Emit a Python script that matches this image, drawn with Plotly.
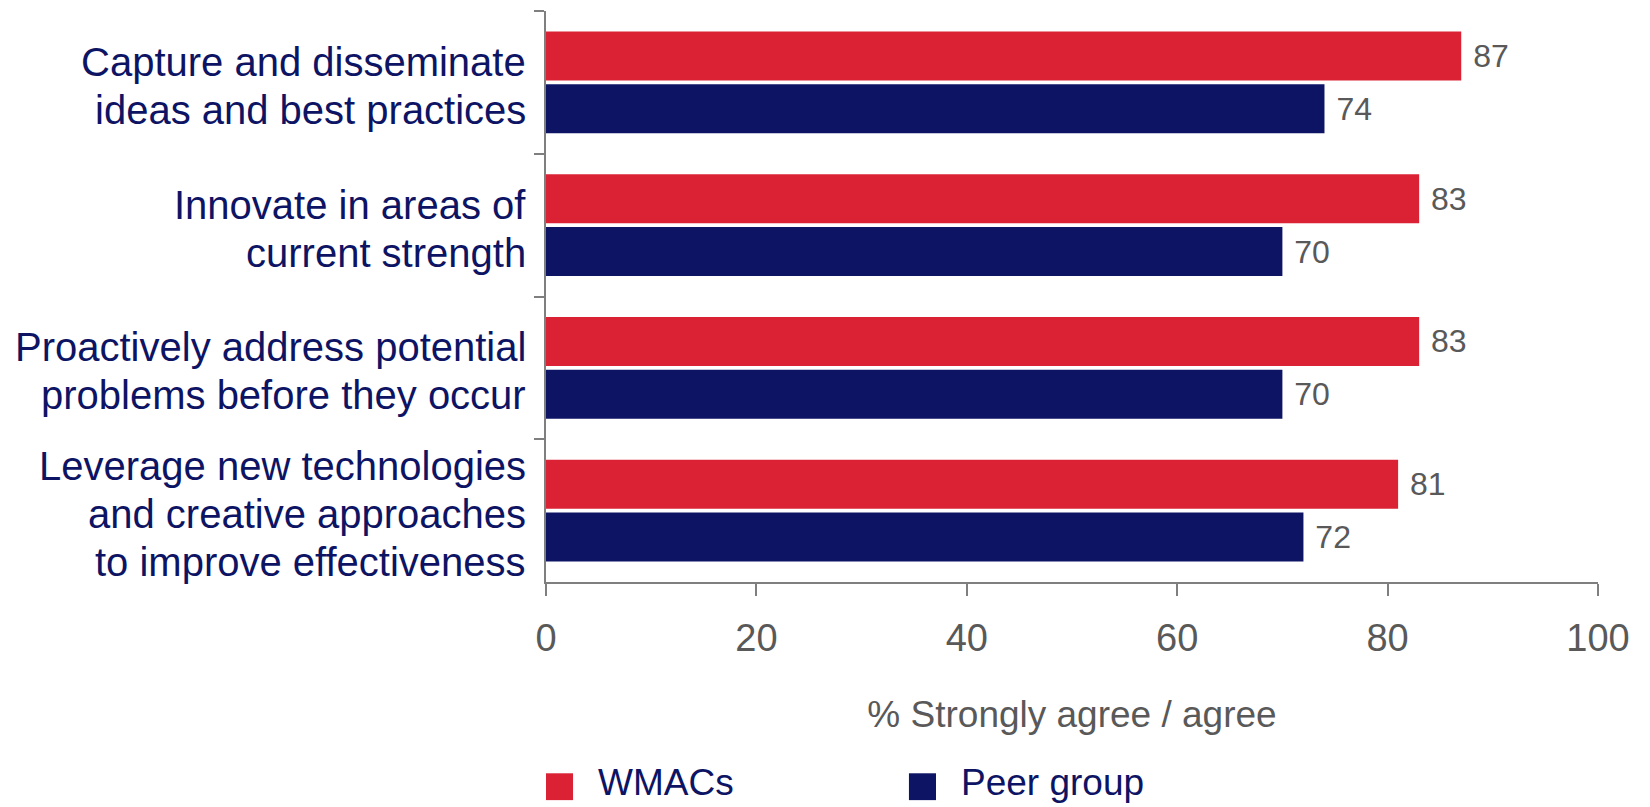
import plotly.graph_objects as go

# Survey statements (top to bottom) and share answering strongly agree / agree
categories = [
    "Capture and disseminate<br>ideas and best practices",
    "Innovate in areas of<br>current strength",
    "Proactively address potential<br>problems before they occur",
    "Leverage new technologies<br>and creative approaches<br>to improve effectiveness",
]
wmacs = [87, 83, 83, 81]
peer_group = [74, 70, 70, 72]
series_names = ["WMACs", "Peer group"]
x_ticks = [0, 20, 40, 60, 80, 100]
x_title = "% Strongly agree / agree"

RED = "#DA2234"
NAVY = "#0E1464"
GREY_AXIS = "#7F7F7F"
GREY_TEXT = "#595959"
FONT = "Liberation Sans, Arial, sans-serif"

fig = go.Figure()
for name, values, color in [(series_names[0], wmacs, RED), (series_names[1], peer_group, NAVY)]:
    fig.add_trace(go.Bar(
        name=name,
        y=categories,
        x=values,
        orientation="h",
        marker=dict(color=color, line=dict(width=0)),
        text=values,
        texttemplate="\u00a0%{x}",
        textposition="outside",
        textfont=dict(family=FONT, size=32, color=GREY_TEXT),
        constraintext="none",
        cliponaxis=False,
        showlegend=False,
    ))

# Category labels, one annotation per line so the line spacing stays tight
annotations = []
line_gap = 48
for cat in categories:
    lines = cat.split("<br>")
    n = len(lines)
    for i, line in enumerate(lines):
        annotations.append(dict(
            text=line, xref="paper", x=0, xanchor="right", xshift=-18,
            yref="y", y=cat, yanchor="middle",
            yshift=-((i - (n - 1) / 2) * line_gap + 3.5),
            showarrow=False,
            font=dict(family=FONT, size=40, color=NAVY),
        ))

# Legend drawn below the axis title
legend_items = [(series_names[0], RED, 0.0), (series_names[1], NAVY, 0.345)]
shapes = []
for name, color, x0 in legend_items:
    shapes.append(dict(
        type="rect", xref="paper", yref="paper",
        x0=x0, x1=x0 + 0.0257, y0=-0.382, y1=-0.335,
        fillcolor=color, line=dict(width=0),
    ))
    annotations.append(dict(
        text=name, xref="paper", yref="paper",
        x=x0 + 0.0475, y=-0.352, xanchor="left", yanchor="middle",
        showarrow=False,
        font=dict(family=FONT, size=37, color=NAVY),
    ))

fig.update_layout(
    width=1650,
    height=807,
    margin=dict(l=546, r=52, t=11, b=225, pad=0),
    paper_bgcolor="white",
    plot_bgcolor="white",
    barmode="group",
    bargap=0.26,
    bargroupgap=0.075,
    font=dict(family=FONT),
    annotations=annotations,
    shapes=shapes,
    xaxis=dict(
        range=[0, 100],
        tickmode="array",
        tickvals=x_ticks,
        ticktext=[str(t) for t in x_ticks],
        showline=True, linecolor=GREY_AXIS, linewidth=2,
        ticks="outside", ticklen=12, tickwidth=2, tickcolor=GREY_AXIS,
        tickfont=dict(family=FONT, size=38, color=GREY_TEXT),
        ticklabelstandoff=9,
        showgrid=False, zeroline=False,
        title=dict(text=x_title, font=dict(family=FONT, size=37, color=GREY_TEXT), standoff=44),
    ),
    yaxis=dict(
        type="category",
        categoryorder="array",
        categoryarray=categories,
        autorange="reversed",
        showline=True, linecolor=GREY_AXIS, linewidth=2,
        ticks="outside", tickson="boundaries", ticklen=10, tickwidth=2, tickcolor=GREY_AXIS,
        showticklabels=False,
        showgrid=False, zeroline=False,
    ),
)

fig.write_html("out.html")
